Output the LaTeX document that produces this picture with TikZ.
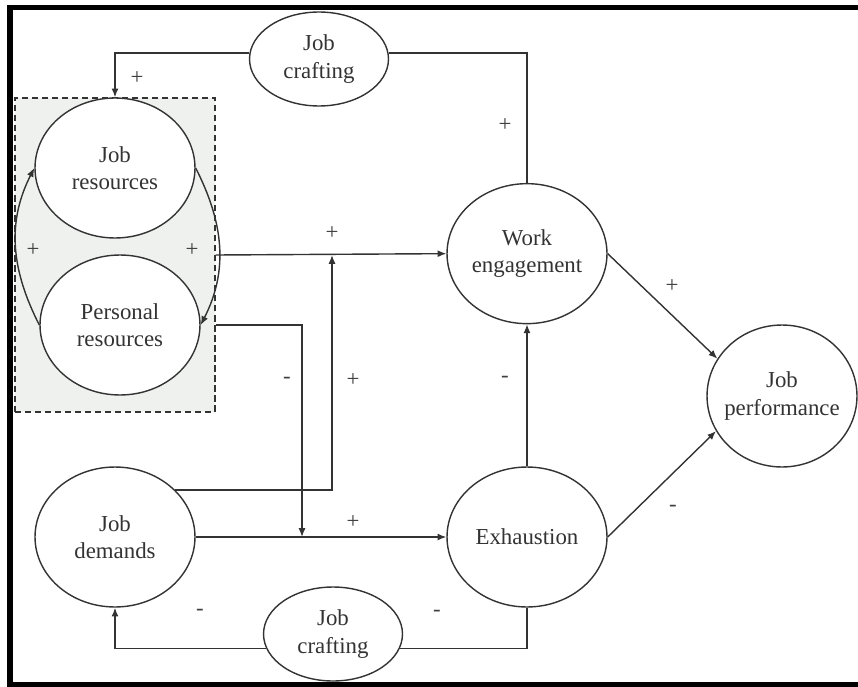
\documentclass[tikz,border=0pt]{standalone}
\usepackage{fontspec}
\setmainfont{Liberation Serif}
\usetikzlibrary{shapes.geometric,arrows.meta,positioning}
\definecolor{boxgray}{RGB}{239,241,239}

\begin{document}
\begin{tikzpicture}[x=0.02cm, y=-0.02cm,
  >={Latex[length=5pt,width=4pt]},
  construct/.style={ellipse, draw=black!80, line width=0.8pt, fill=white,
    minimum width=3.2cm, minimum height=2.8cm, inner sep=-4pt, align=center,
    text=black!80, font=\fontsize{13}{15.5}\selectfont},
  crafting/.style={construct, minimum width=2.78cm, minimum height=1.88cm},
  sign/.style={font=\fontsize{13}{15}\selectfont, text=black!75, inner sep=0pt},
  link/.style={draw=black!80, line width=0.8pt}]

\useasboundingbox (0,0) rectangle (858,686);

% frame
\draw[line width=3.4pt, line join=miter] (858,7.5) -- (10,7.5) -- (10,685) -- (858,685);

% resources block
\node[draw=black!80, fill=boxgray, line width=0.8pt, dash pattern=on 3.5pt off 2.2pt,
  minimum width=4cm, minimum height=6.28cm, inner sep=0pt] (res) at (115,255) {};

% constructs
\node[construct] (jr) at (115,168) {Job\\resources};
\node[construct] (pr) at (120,325) {Personal\\resources};
\node[construct] (jd) at (115,537) {Job\\demands};
\node[construct] (ex) at (527,537) {Exhaustion};
\node[construct, above=2.84cm of ex] (we) {Work\\engagement};
\node[construct, minimum width=3cm, minimum height=2.84cm] (jp) at (782,396) {Job\\performance};
\node[crafting] (jc1) at (319,59) {Job\\crafting};
\node[crafting] (jc2) at (333,634) {Job\\crafting};

\coordinate (m1) at (332,255);
\coordinate (m2) at (302,537);

% edges
\draw[link,->] (res.east) -- (we.west);
\draw[link,->] (res.east |- pr) -| (m2);
\draw[link,->] (jd.38) -| (m1);
\draw[link,->] (jd) -- (ex);
\draw[link,->] (ex) -- (we);
\draw[link,->] (we.east) -- (jp.150);
\draw[link,->] (ex.east) -- (jp.208);
\draw[link] (we.north) |- (jc1.5);
\draw[link,->] (jc1.175) -| (jr.north);
\draw[link] (ex.south) |- (jc2.-12);
\draw[link,->] (jc2.192) -| (jd.south);
\draw[link,->] (pr.west) to[out=117,in=243] (jr.west);
\draw[link,->] (jr.east) to[out=-63,in=63] (pr.east);

% signs
\node[sign] (p1) at (137,78) {+};
\node[sign] (p2) at (505,125) {+};
\node[sign] (p3) at (332,233) {+};
\node[sign] (p4) at (33,250) {+};
\node[sign] (p5) at (192,250) {+};
\node[sign] (p6) at (353,380) {+};
\node[sign] (p7) at (353,522) {+};
\node[sign] (p8) at (672,286) {+};
\node[sign] (n1) at (287,380) {-};
\node[sign] (n2) at (505,379) {-};
\node[sign] (n3) at (673,508) {-};
\node[sign] (n4) at (200,612) {-};
\node[sign] (n5) at (437,613) {-};

\end{tikzpicture}
\end{document}
